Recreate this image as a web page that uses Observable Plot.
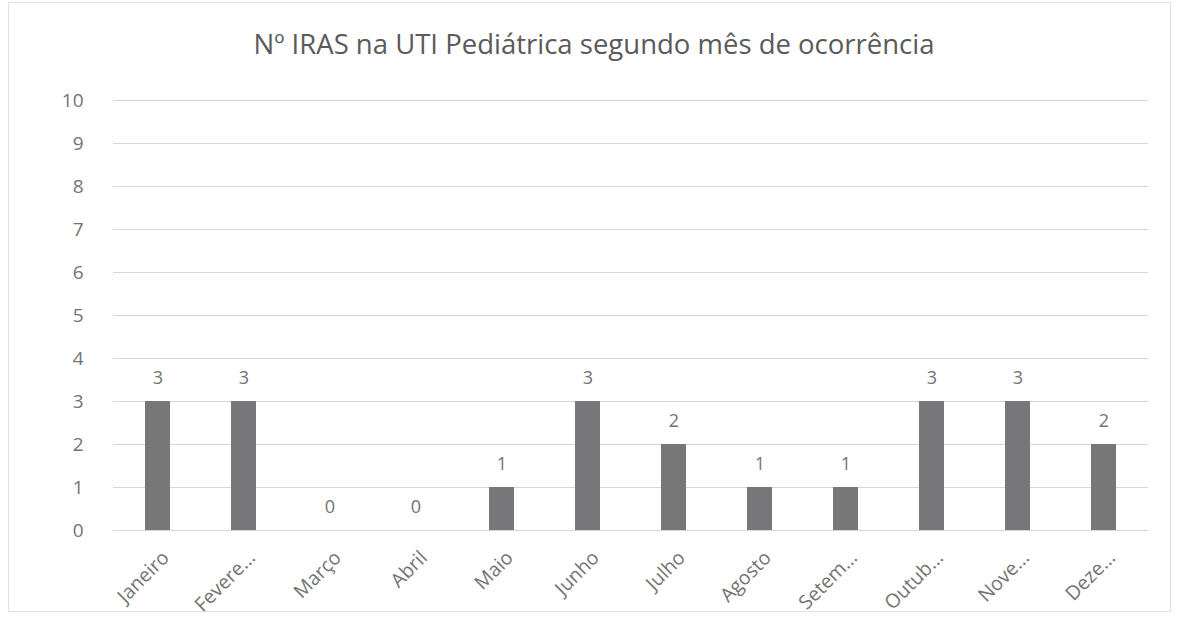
<!DOCTYPE html>
<html>
<head>
<meta charset="utf-8">
<script src="https://cdn.jsdelivr.net/npm/d3@7"></script>
<script src="https://cdn.jsdelivr.net/npm/@observablehq/plot@0.6"></script>
<style>
  html, body { margin: 0; padding: 0; background: #fff; }
  #wrap { position: relative; width: 1180px; height: 625px; font-family: "Open Sans", Lato, sans-serif; }
  #frame { position: absolute; left: 8px; top: 2px; width: 1163px; height: 610px; border: 1px solid #e2e2e2; box-sizing: border-box; pointer-events: none; }
  #title { position: absolute; left: 0; top: 26px; width: 1188px; text-align: center; font-size: 27.5px; color: #5a5a5a; line-height: 36px; }
  #chart { position: absolute; left: 0; top: 70px; }
</style>
</head>
<body>
<div id="wrap">
  <div id="frame"></div>
  <div id="title">Nº IRAS na UTI Pediátrica segundo mês de ocorrência</div>
  <div id="chart"></div>
</div>
<script>
const months = ["Janeiro", "Fevere...", "Março", "Abril", "Maio", "Junho", "Julho", "Agosto", "Setem...", "Outub...", "Nove...", "Deze..."];
const counts = [3, 3, 0, 0, 1, 3, 2, 1, 1, 3, 3, 2];
const yTicks = [0, 1, 2, 3, 4, 5, 6, 7, 8, 9, 10];

const data = months.map((m, i) => ({month: m, count: counts[i]}));
const font = "'Open Sans', Lato, sans-serif";

const plot = Plot.plot({
  width: 1180,
  height: 555,
  marginTop: 30,
  marginBottom: 95,
  marginLeft: 113,
  marginRight: 32,
  style: {fontFamily: font, fontSize: "18px", color: "#707070", background: "transparent"},
  x: {domain: months, paddingInner: 0.71, paddingOuter: 0.345, label: null},
  y: {domain: [0, 10], label: null},
  marks: [
    Plot.gridY(yTicks, {stroke: "#d6d6d6", strokeOpacity: 1, strokeWidth: 1}),
    Plot.axisY(yTicks, {tickSize: 0, tickPadding: 30, fontSize: 19, fill: "#737373", tickFormat: d3.format("d"), label: null}),
    Plot.axisX({tickSize: 0, tickRotate: -45, tickPadding: 24, dx: 8, fontSize: 19.5, fill: "#737373", label: null}),
    Plot.barY(data, {x: "month", y: "count", fill: "#777779"}),
    Plot.text(data, {x: "month", y: "count", text: d => String(d.count), dy: -23, fill: "#737373", fontSize: 18})
  ]
});
document.getElementById("chart").appendChild(plot);
</script>
</body>
</html>
